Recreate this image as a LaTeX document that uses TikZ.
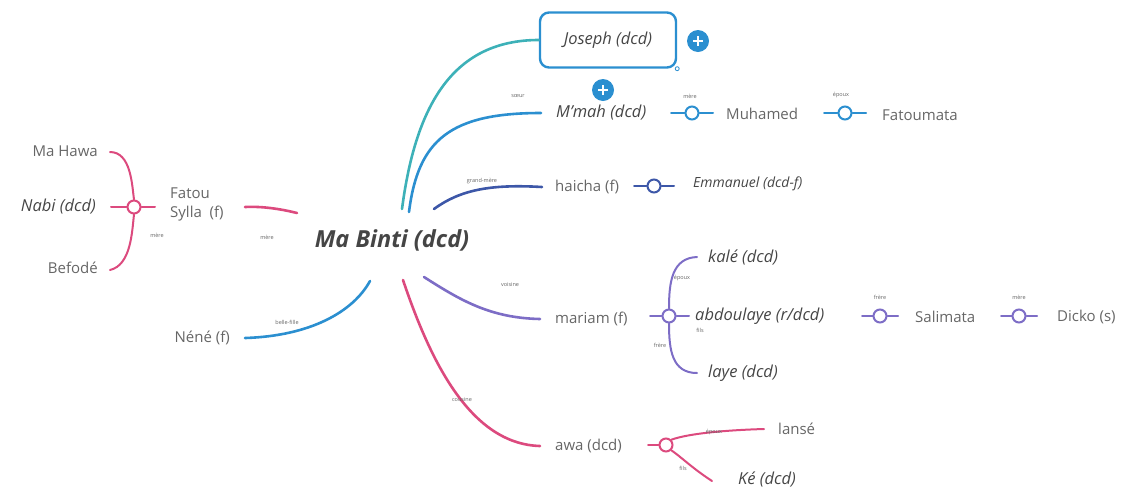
\documentclass[tikz,border=0pt]{standalone}
\usepackage{fontspec}
\setmainfont{Open Sans}
\definecolor{pinkc}{HTML}{DC4A7E}
\definecolor{bluec}{HTML}{2B8FD0}
\definecolor{tealc}{HTML}{3DB1B8}
\definecolor{navyc}{HTML}{3D57A8}
\definecolor{purpc}{HTML}{7D6DC6}
\definecolor{txtc}{HTML}{666666}
\definecolor{handc}{HTML}{454545}
\begin{document}
\begin{tikzpicture}[x=1pt,y=-1pt,
  plain/.style={text=txtc,font=\fontsize{15}{19}\selectfont,inner sep=0pt},
  hand/.style={text=handc,font=\fontsize{16.5}{19}\selectfont\itshape,inner sep=0pt},
  lbl/.style={text=txtc,font=\fontsize{5.5}{6}\selectfont,inner sep=0.5pt},
  mainln/.style={line width=2.6pt,line cap=round},
  subln/.style={line width=2pt,line cap=round},
  junc/.style={circle,draw,line width=2pt,fill=white,minimum size=13pt,inner sep=0pt},
  plusb/.style={circle,fill=bluec,minimum size=22pt,inner sep=0pt}
]
\useasboundingbox (0,0) rectangle (1133,491);

% central topic
\node[text=handc,font=\fontsize{23.5}{26}\selectfont\bfseries\itshape,inner sep=0pt] (mb) at (392,240) {Ma Binti (dcd)};
\coordinate (cJ) at (402,209);
\coordinate (cM) at (409,212);
\coordinate (cH) at (434,209);
\coordinate (cF) at (297,213);
\coordinate (cN) at (370,281);
\coordinate (cV) at (424,277);
\coordinate (cA) at (403,280);

% ---------- Joseph ----------
\node[hand,draw=bluec,line width=2.4pt,rounded corners=9pt,minimum width=136pt,minimum height=55pt] (jos) at (608,40) {Joseph (dcd)};
\node[circle,draw=bluec,fill=white,line width=0.8pt,inner sep=0pt,minimum size=4pt] (jdot) at (jos.south east) {};
\draw[tealc,mainln] (cJ) .. controls (415,110) and (450,40) .. (jos.west);
\node[plusb] (p1) at (698,41) {};
\draw[white,line width=1.8pt] ([xshift=-5pt]p1.center) -- ([xshift=5pt]p1.center) ([yshift=-5pt]p1.center) -- ([yshift=5pt]p1.center);

% ---------- M'mah ----------
\node[hand,anchor=west] (mmah) at (556,113) {M'mah (dcd)};
\draw[bluec,mainln] (cM) .. controls (418,140) and (450,113) .. ([xshift=-15pt]mmah.west);
\node[lbl] (l1) at (518,96) {sœur};
\node[plusb] (p2) at (603,90) {};
\draw[white,line width=1.8pt] ([xshift=-5pt]p2.center) -- ([xshift=5pt]p2.center) ([yshift=-5pt]p2.center) -- ([yshift=5pt]p2.center);
\node[junc,draw=bluec] (j1) at (692,113) {};
\node[plain,anchor=west] (muh) at (726,114) {Muhamed};
\draw[bluec,subln] ([xshift=-21pt]j1.center) -- (j1.west) (j1.east) -- ([xshift=21pt]j1.center);
\node[lbl] (l2) at (690,96) {mère};
\node[junc,draw=bluec] (j2) at (845,113) {};
\node[plain,anchor=west] (fat) at (882,115) {Fatoumata};
\draw[bluec,subln] ([xshift=-21pt]j2.center) -- (j2.west) (j2.east) -- ([xshift=21pt]j2.center);
\node[lbl] (l3) at (841,95) {époux};

% ---------- haicha ----------
\node[plain,anchor=west] (hai) at (555,187) {haicha (f)};
\draw[navyc,mainln] (cH) .. controls (460,190) and (490,184) .. ([xshift=-13pt]hai.west);
\node[lbl] (l4) at (482,181) {grand-mère};
\node[junc,draw=navyc] (j3) at (654,186) {};
\node[hand,anchor=west,font=\fontsize{14}{16}\selectfont\itshape] (emm) at (693,184) {Emmanuel (dcd-f)};
\draw[navyc,subln] ([xshift=-20pt]j3.center) -- (j3.west) (j3.east) -- ([xshift=20pt]j3.center);

% ---------- Fatou Sylla ----------
\node[plain,anchor=north west,align=left] (fs) at (170,188) {Fatou\\Sylla\ \ (f)};
\draw[pinkc,mainln] (245,207) .. controls (265,206) and (285,210) .. (cF);
\node[lbl] (l5) at (267,237) {mère};
\node[junc,draw=pinkc] (j4) at (134,207) {};
\node[plain,anchor=east] (hawa) at (98,151) {Ma Hawa};
\node[hand,anchor=east] (nabi) at (96,207) {Nabi (dcd)};
\node[plain,anchor=east] (bef) at (98,268) {Befodé};
\draw[pinkc,subln] ([xshift=12pt,yshift=-1pt]hawa.east) .. controls (131,152) and (132,185) .. (j4.north);
\draw[pinkc,subln] (j4.south) .. controls (132,232) and (131,265) .. ([xshift=12pt,yshift=-2pt]bef.east);
\draw[pinkc,subln] ([xshift=-23pt]j4.center) -- (j4.west) (j4.east) -- ([xshift=21pt]j4.center);
\node[lbl] (l6) at (157,235) {mère};

% ---------- Néné ----------
\node[plain,anchor=east] (nen) at (230,338) {Néné (f)};
\draw[bluec,mainln] ([xshift=15pt]nen.east) .. controls (310,336) and (353,312) .. (cN);
\node[lbl] (l7) at (287,322) {belle-fille};

% ---------- mariam ----------
\node[plain,anchor=west] (mar) at (555,319) {mariam (f)};
\draw[purpc,mainln] (cV) .. controls (460,300) and (490,318) .. ([xshift=-15pt]mar.west);
\node[lbl] (l8) at (510,285) {voisine};
\node[junc,draw=purpc] (j5) at (669,316) {};
\node[hand,anchor=west] (kal) at (708,257) {kalé (dcd)};
\node[hand,anchor=west] (abd) at (695,316) {abdoulaye (r/dcd)};
\node[hand,anchor=west] (lay) at (708,373) {laye (dcd)};
\draw[purpc,subln] ([xshift=-19pt]j5.center) -- (j5.west) (j5.east) -- ([xshift=20pt]j5.center);
\draw[purpc,subln] (j5.north) .. controls (669,282) and (672,258) .. ([xshift=-11pt]kal.west);
\draw[purpc,subln] (j5.south) .. controls (669,350) and (672,373) .. ([xshift=-11pt]lay.west);
\node[lbl] (l9) at (682,278) {époux};
\node[lbl] (l10) at (700,330) {fils};
\node[lbl] (l11) at (660,345) {frère};
\node[junc,draw=purpc] (j6) at (880,316) {};
\node[plain,anchor=west] (sal) at (915,317) {Salimata};
\node[lbl] (l12) at (880,297) {frère};
\draw[purpc,subln] ([xshift=-18pt]j6.center) -- (j6.west) (j6.east) -- ([xshift=18pt]j6.center);
\node[junc,draw=purpc] (j7) at (1019,316) {};
\node[plain,anchor=west] (dic) at (1057,317) {Dicko (s)};
\node[lbl] (l13) at (1019,297) {mère};
\draw[purpc,subln] ([xshift=-18pt]j7.center) -- (j7.west) (j7.east) -- ([xshift=18pt]j7.center);

% ---------- awa ----------
\node[plain,anchor=west] (awa) at (555,446) {awa (dcd)};
\draw[pinkc,mainln] (cA) .. controls (430,360) and (470,444) .. ([xshift=-15pt]awa.west);
\node[lbl] (l14) at (462,400) {cousine};
\node[junc,draw=pinkc] (j8) at (666,445) {};
\node[plain,anchor=west] (lan) at (778,429) {lansé};
\node[hand,anchor=west] (ke) at (738,479) {Ké (dcd)};
\draw[pinkc,subln] ([xshift=-18pt]j8.center) -- (j8.west);
\draw[pinkc,subln] (j8.north east) .. controls (690,433) and (730,430) .. ([xshift=-14pt]lan.west);
\draw[pinkc,subln] (j8.south east) .. controls (680,456) and (692,468) .. ([xshift=-26pt,yshift=-2pt]ke.west);
\node[lbl] (l15) at (714,432) {époux};
\node[lbl] (l16) at (683,468) {fils};
\end{tikzpicture}
\end{document}
